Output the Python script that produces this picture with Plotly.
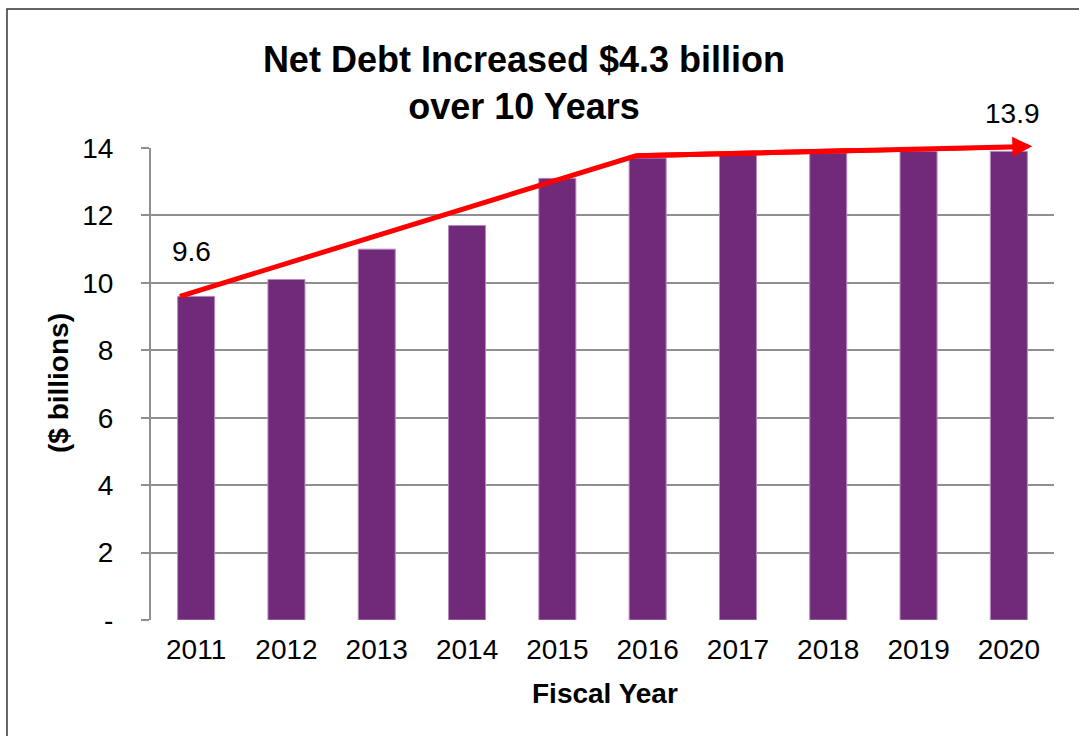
import plotly.graph_objects as go

years = ["2011", "2012", "2013", "2014", "2015", "2016", "2017", "2018", "2019", "2020"]
net_debt = [9.6, 10.1, 11.0, 11.7, 13.1, 13.7, 13.8, 13.85, 13.9, 13.9]
y_ticks = [0, 2, 4, 6, 8, 10, 12, 14]
y_tick_labels = ["-", "2", "4", "6", "8", "10", "12", "14"]
trend_x = [-0.18, 4.87, 9.26]
trend_y = [9.6, 13.77, 14.05]
label_first = "9.6"
label_last = "13.9"

FONT = "Liberation Sans, Arial, sans-serif"
xpos = list(range(len(years)))

fig = go.Figure()
fig.add_trace(go.Bar(
    x=xpos, y=net_debt, width=0.41,
    marker=dict(color="#71297A", line=dict(color="#B48CBC", width=1)),
    hoverinfo="skip", showlegend=False,
))
fig.add_trace(go.Scatter(
    x=trend_x[:2] + [trend_x[2] - 0.12], y=trend_y[:2] + [trend_y[2] - 0.004],
    mode="lines", line=dict(color="#FF0000", width=5),
    hoverinfo="skip", showlegend=False,
))
fig.add_annotation(
    x=trend_x[2], y=trend_y[2], ax=trend_x[1], ay=trend_y[1],
    xref="x", yref="y", axref="x", ayref="y",
    text="", showarrow=True, arrowhead=2, arrowsize=0.8, arrowwidth=5,
    arrowcolor="#FF0000", standoff=0,
)
fig.add_annotation(x=xpos[0], y=net_debt[0], text=label_first, showarrow=False,
                   yanchor="bottom", yshift=27, xshift=-5,
                   font=dict(family=FONT, size=28, color="black"))
fig.add_annotation(x=xpos[-1], y=net_debt[-1], text=label_last, showarrow=False,
                   yanchor="bottom", yshift=20, xshift=4,
                   font=dict(family=FONT, size=28, color="black"))
fig.add_annotation(x=0.503, y=-0.155, xref="paper", yref="paper", text="<b>Fiscal Year</b>",
                   xanchor="center", yanchor="middle",
                   showarrow=False, font=dict(family=FONT, size=28, color="black"))
fig.add_annotation(x=-0.103, y=0.502, xref="paper", yref="paper", text="<b>($ billions)</b>",
                   xanchor="center", yanchor="middle",
                   textangle=-90, showarrow=False, font=dict(family=FONT, size=28, color="black"))

fig.add_shape(type="rect", xref="paper", yref="paper",
              x0=-0.1595, y0=-0.3, x1=1.1, y1=1.2945,
              line=dict(color="#333333", width=1.5), fillcolor="rgba(0,0,0,0)", layer="above")

fig.update_layout(
    width=1079, height=736,
    margin=dict(l=151, r=25, t=148, b=116),
    paper_bgcolor="white", plot_bgcolor="white",
    font=dict(family=FONT, size=28, color="black"),
    title=dict(text="<b>Net Debt Increased $4.3 billion<br>over 10 Years</b>",
               x=0.4856, xanchor="center", xref="container",
               y=1 - 72 / 736, yanchor="middle", yref="container",
               font=dict(family=FONT, size=36, color="black")),
    bargap=0.5,
)
fig.update_xaxes(
    range=[-0.5, 9.5], tickvals=xpos, ticktext=years,
    showgrid=False, zeroline=False, showline=False,
    ticks="", ticklabelstandoff=10,
    tickfont=dict(family=FONT, size=28, color="black"),
)
fig.update_yaxes(
    range=[0, 14], tickvals=y_ticks, ticktext=y_tick_labels,
    showgrid=True, gridcolor="#8F8F8F", gridwidth=2,
    zeroline=False, showline=True, linecolor="#8F8F8F", linewidth=2,
    ticks="outside", ticklen=8, tickcolor="#8F8F8F", tickwidth=2,
    ticklabelstandoff=22,
    tickfont=dict(family=FONT, size=28, color="black"),
)

fig.write_html("out.html")
